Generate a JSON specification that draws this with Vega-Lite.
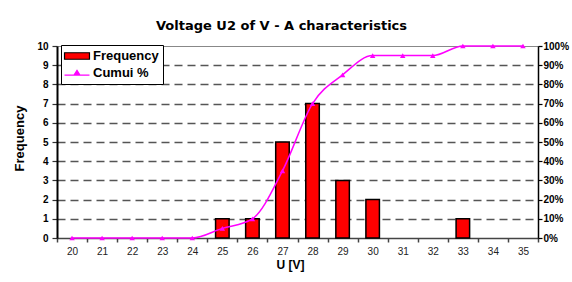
{
  "$schema": "https://vega.github.io/schema/vega-lite/v6.json",
  "width": 481,
  "height": 192,
  "autosize": {"type": "none"},
  "padding": {"left": 57, "top": 46, "right": 34, "bottom": 44},
  "background": "white",
  "title": {
    "text": "Voltage U2 of V - A characteristics",
    "font": "DejaVu Sans",
    "fontSize": 13,
    "fontWeight": "bold",
    "color": "black",
    "anchor": "middle",
    "dx": -16,
    "offset": 8
  },
  "config": {
    "font": "Liberation Sans",
    "view": {"stroke": "#888888", "strokeWidth": 1},
    "legend": {
      "orient": "none",
      "legendX": 4,
      "legendY": -1,
      "fillColor": "white",
      "strokeColor": "black",
      "padding": 4,
      "symbolSize": 144,
      "symbolOffset": 5,
      "labelOffset": 9,
      "rowPadding": 3,
      "labelFontSize": 13,
      "labelFontWeight": "bold",
      "labelColor": "black",
      "symbolStrokeWidth": 1.2
    }
  },
  "data": {
    "values": [
      {"U": 20, "freq": 0, "cum": 0},
      {"U": 21, "freq": 0, "cum": 0},
      {"U": 22, "freq": 0, "cum": 0},
      {"U": 23, "freq": 0, "cum": 0},
      {"U": 24, "freq": 0, "cum": 0},
      {"U": 25, "freq": 1, "cum": 0.05},
      {"U": 26, "freq": 1, "cum": 0.10},
      {"U": 27, "freq": 5, "cum": 0.35},
      {"U": 28, "freq": 7, "cum": 0.70},
      {"U": 29, "freq": 3, "cum": 0.85},
      {"U": 30, "freq": 2, "cum": 0.95},
      {"U": 31, "freq": 0, "cum": 0.95},
      {"U": 32, "freq": 0, "cum": 0.95},
      {"U": 33, "freq": 1, "cum": 1.0},
      {"U": 34, "freq": 0, "cum": 1.0},
      {"U": 35, "freq": 0, "cum": 1.0}
    ]
  },
  "encoding": {
    "x": {
      "field": "U",
      "type": "ordinal",
      "scale": {"paddingInner": 0, "paddingOuter": 0},
      "axis": {
        "title": "U [V]",
        "labelAngle": 0,
        "tickBand": "extent",
        "grid": false,
        "domainColor": "#444444",
        "domainWidth": 1.5,
        "tickColor": "#444444",
        "tickWidth": 1.5,
        "tickSize": 4,
        "labelFontSize": 10,
        "labelColor": "#222222",
        "labelPadding": 4,
        "titleFontSize": 12,
        "titleFontWeight": "bold",
        "titleColor": "black",
        "titlePadding": 3,
        "titleX": 233
      }
    }
  },
  "layer": [
    {
      "transform": [{"filter": "datum.freq > 0"}],
      "mark": {
        "type": "bar",
        "stroke": {"expr": "datum.value == 'Cumui %' ? '#ff00ff' : 'black'"},
        "strokeWidth": 1.5,
        "width": {"band": 0.45}
      },
      "encoding": {
        "y": {
          "field": "freq",
          "type": "quantitative",
          "scale": {"domain": [0, 10]},
          "axis": {
            "title": "Frequency",
            "values": [0, 1, 2, 3, 4, 5, 6, 7, 8, 9, 10],
            "domainColor": "black",
            "domainWidth": 2,
            "tickColor": "#333333",
            "tickWidth": 1.2,
            "tickSize": 5,
            "labelFontSize": 10,
            "labelFontWeight": "bold",
            "labelColor": "black",
            "labelPadding": 4,
            "grid": true,
            "gridDash": [8, 5],
            "gridColor": "#555555",
            "gridWidth": 1.5,
            "gridOpacity": {"condition": {"test": "datum.value == 0 || datum.value == 10", "value": 0}, "value": 1},
            "titleFontSize": 13,
            "titleFontWeight": "bold",
            "titleColor": "black",
            "titleBaseline": "middle",
            "titleX": -38,
            "titleY": 92
          }
        },
        "color": {
          "datum": "Frequency",
          "scale": {"domain": ["Frequency", "Cumui %"], "range": ["#ff0000", "#ff00ff"]},
          "legend": {"title": null}
        }
      }
    },
    {
      "mark": {
        "type": "line",
        "color": "#ff00ff",
        "strokeWidth": 1.5,
        "interpolate": "monotone",
        "point": {"shape": "triangle-up", "size": 30, "filled": true, "color": "#ff00ff"}
      },
      "encoding": {
        "y": {
          "field": "cum",
          "type": "quantitative",
          "scale": {"domain": [0, 1]},
          "axis": {
            "orient": "right",
            "title": null,
            "format": ".0%",
            "values": [0, 0.1, 0.2, 0.3, 0.4, 0.5, 0.6, 0.7, 0.8, 0.9, 1],
            "grid": false,
            "domainColor": "black",
            "domainWidth": 1.5,
            "tickColor": "black",
            "tickWidth": 1.2,
            "tickSize": 4,
            "labelFontSize": 10,
            "labelFontWeight": "bold",
            "labelColor": "black",
            "labelPadding": 1
          }
        }
      }
    },
    {
      "transform": [{"filter": "false"}],
      "mark": {"type": "point", "filled": true},
      "encoding": {
        "color": {"datum": "Cumui %"},
        "shape": {
          "datum": "Cumui %",
          "scale": {
            "domain": ["Frequency", "Cumui %"],
            "range": ["M-2.08,-0.54H2.08V0.54H-2.08Z", "M-2.08,0.35H2.08M-0.5,0.35L0,-0.45L0.5,0.35Z"]
          },
          "legend": {"title": null}
        }
      }
    }
  ],
  "resolve": {"scale": {"y": "independent"}}
}
